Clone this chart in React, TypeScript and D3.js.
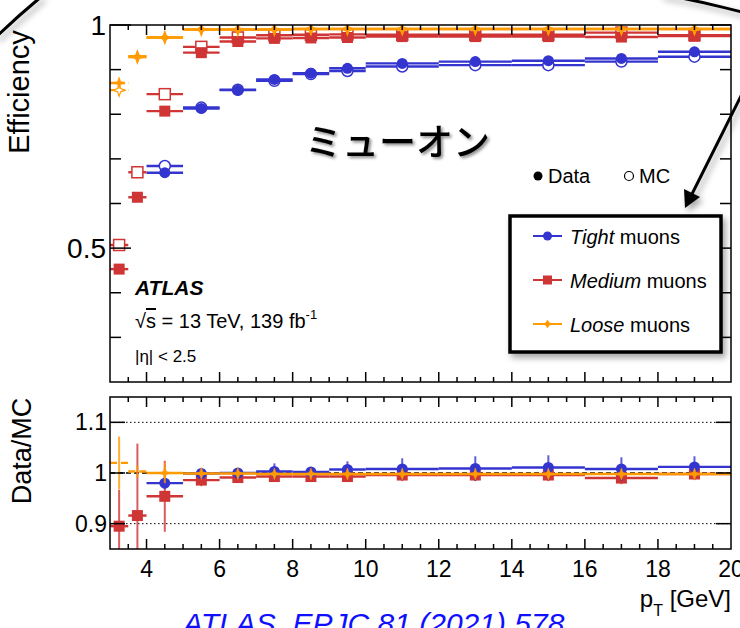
import React, { useEffect, useRef } from "react";
import * as d3 from "d3";

// pT bin edges [GeV]
const binEdges = [3, 3.5, 4, 5, 6, 7, 8, 9, 10, 12, 14, 16, 18, 20];

// efficiencies
const tightData = [null, null, 0.669, 0.813, 0.854, 0.878, 0.892, 0.903, 0.914, 0.918, 0.92, 0.925, 0.94];
const tightMC = [null, null, 0.684, 0.815, 0.855, 0.875, 0.89, 0.897, 0.907, 0.91, 0.91, 0.918, 0.929];
const mediumData = [0.453, 0.614, 0.807, 0.938, 0.963, 0.97, 0.971, 0.972, 0.974, 0.974, 0.974, 0.973, 0.975];
const mediumMC = [0.507, 0.67, 0.845, 0.951, 0.972, 0.977, 0.978, 0.979, 0.978, 0.978, 0.978, 0.983, 0.977];
const looseData = [0.87, 0.93, 0.972, 0.99, 0.99, 0.99, 0.991, 0.991, 0.991, 0.991, 0.991, 0.991, 0.991];
const looseMC = [0.854, 0.928, 0.972, 0.99, 0.99, 0.99, 0.991, 0.991, 0.991, 0.991, 0.991, 0.991, 0.991];

// Data/MC ratio and its error, lower panel
const tightRatio = [null, null, 0.98, 0.999, 1.0, 1.003, 1.002, 1.007, 1.008, 1.009, 1.011, 1.008, 1.012];
const tightRatioErr = [null, null, 0.012, 0.006, 0.008, 0.016, 0.01, 0.016, 0.021, 0.024, 0.024, 0.023, 0.021];
const mediumRatio = [0.895, 0.916, 0.954, 0.986, 0.991, 0.993, 0.993, 0.993, 0.996, 0.996, 0.996, 0.99, 0.998];
const mediumRatioErr = [0.072, 0.142, 0.07, 0.012, 0.008, 0.01, 0.008, 0.01, 0.012, 0.012, 0.012, 0.012, 0.012];
const looseRatio = [1.02, 1.003, 1.0, 0.999, 0.999, 0.998, 0.998, 0.998, 0.998, 0.998, 0.998, 0.998, 0.998];
const looseRatioErr = [0.052, 0.012, 0.02, 0.005, 0.004, 0.004, 0.004, 0.004, 0.005, 0.005, 0.005, 0.005, 0.005];

const xTicks = [4, 6, 8, 10, 12, 14, 16, 18, 20];

const BLUE = "#3434cf";
const RED = "#cf3535";
const ORANGE = "#ff9a00";

const series = [
  { name: "Tight", color: BLUE, marker: "circle", data: tightData, mc: tightMC, ratio: tightRatio, err: tightRatioErr },
  { name: "Medium", color: RED, marker: "square", data: mediumData, mc: mediumMC, ratio: mediumRatio, err: mediumRatioErr },
  { name: "Loose", color: ORANGE, marker: "star", data: looseData, mc: looseMC, ratio: looseRatio, err: looseRatioErr },
];

const FONT = "'Liberation Sans', Arial, Helvetica, sans-serif";

const App = () => {
  const svgRef = useRef<SVGSVGElement>(null);

  useEffect(() => {
    const svg = d3.select(svgRef.current);
    svg.selectAll("*").remove();

    const L = 110, R = 731;
    const mainTop = 25, mainBot = 382;
    const ratTop = 397, ratBot = 549;

    const x = d3.scaleLinear().domain([3, 20]).range([L, R]);
    const yMain = d3.scaleLinear().domain([0.2, 1]).range([mainBot, mainTop]);
    const yRat = d3.scaleLinear().domain([0.85, 1.15]).range([ratBot, ratTop]);

    const defs = svg.append("defs");
    const shadow = defs.append("filter").attr("id", "shadow").attr("x", "-20%").attr("y", "-20%").attr("width", "150%").attr("height", "150%");
    shadow.append("feDropShadow").attr("dx", 3).attr("dy", 4).attr("stdDeviation", 3).attr("flood-color", "#000").attr("flood-opacity", 0.35);
    const tshadow = defs.append("filter").attr("id", "tshadow").attr("x", "-10%").attr("y", "-20%").attr("width", "130%").attr("height", "150%");
    tshadow.append("feDropShadow").attr("dx", 2).attr("dy", 2).attr("stdDeviation", 1.5).attr("flood-color", "#000").attr("flood-opacity", 0.45);
    defs.append("clipPath").attr("id", "ratClip").append("rect")
      .attr("x", L).attr("y", ratTop).attr("width", R - L).attr("height", ratBot - ratTop);
    defs.append("clipPath").attr("id", "mainClip").append("rect")
      .attr("x", L).attr("y", mainTop).attr("width", R - L).attr("height", mainBot - mainTop);

    svg.append("rect").attr("width", 740).attr("height", 628).attr("fill", "#fff");

    // slide decorations: curved outlines at the top corners
    const deco = svg.append("g").attr("filter", "url(#shadow)");
    deco.append("path").attr("d", "M -4,37 Q 18,16 42,-4").attr("fill", "none").attr("stroke", "#000").attr("stroke-width", 3);
    deco.append("path").attr("d", "M 660,-6 Q 705,2 750,14").attr("fill", "none").attr("stroke", "#000").attr("stroke-width", 3);

    const drawMarker = (g, type, cx, cy, color, open, size = 5.5) => {
      if (type === "circle") {
        g.append("circle").attr("cx", cx).attr("cy", cy).attr("r", size)
          .attr("fill", open ? "#fff" : color).attr("stroke", color).attr("stroke-width", open ? 1.5 : 0);
      } else if (type === "square") {
        g.append("rect").attr("x", cx - size).attr("y", cy - size).attr("width", 2 * size).attr("height", 2 * size)
          .attr("fill", open ? "#fff" : color).attr("stroke", color).attr("stroke-width", open ? 1.5 : 0);
      } else {
        const s = size + 0.5, w = 1.6;
        const d = `M${cx},${cy - s} L${cx + w},${cy - w} L${cx + s},${cy} L${cx + w},${cy + w} L${cx},${cy + s} L${cx - w},${cy + w} L${cx - s},${cy} L${cx - w},${cy - w}Z`;
        g.append("path").attr("d", d).attr("fill", open ? "#fff" : color).attr("stroke", color).attr("stroke-width", open ? 1.2 : 0.5);
      }
    };

    const centers = binEdges.slice(0, -1).map((e, i) => (e + binEdges[i + 1]) / 2);

    // ---------- main panel ----------
    const gMain = svg.append("g").attr("clip-path", "url(#mainClip)");
    series.forEach((s) => {
      [{ vals: s.mc, open: true }, { vals: s.data, open: false }].forEach(({ vals, open }) => {
        vals.forEach((v, i) => {
          if (v == null) return;
          gMain.append("line")
            .attr("x1", x(binEdges[i])).attr("x2", x(binEdges[i + 1]))
            .attr("y1", yMain(v)).attr("y2", yMain(v))
            .attr("stroke", s.color).attr("stroke-width", 2.4)
            .attr("stroke-dasharray", s.marker === "star" && i === 0 ? "6,3" : null);
          drawMarker(gMain, s.marker, x(centers[i]), yMain(v), s.color, open);
        });
      });
    });

    // ---------- ratio panel ----------
    const gRat = svg.append("g");
    gRat.selectAll(".grid").data([0.9, 1.1]).join("line")
      .attr("x1", L).attr("x2", R).attr("y1", (d) => yRat(d)).attr("y2", (d) => yRat(d))
      .attr("stroke", "#000").attr("stroke-width", 1).attr("stroke-dasharray", "1.5,2.5");
    const gRatData = svg.append("g").attr("clip-path", "url(#ratClip)");
    [series[1], series[0], series[2]].forEach((s) => {
      s.ratio.forEach((v, i) => {
        if (v == null) return;
        const e = s.err[i];
        gRatData.append("line")
          .attr("x1", x(centers[i])).attr("x2", x(centers[i]))
          .attr("y1", yRat(v - e)).attr("y2", yRat(v + e))
          .attr("stroke", s.color).attr("stroke-width", 2).attr("stroke-opacity", 0.8);
        gRatData.append("line")
          .attr("x1", x(binEdges[i])).attr("x2", x(binEdges[i + 1]))
          .attr("y1", yRat(v)).attr("y2", yRat(v))
          .attr("stroke", s.color).attr("stroke-width", 2.4)
          .attr("stroke-dasharray", s.marker === "star" && i < 2 ? "7,4" : null);
        if (!(s.marker === "star" && i < 2)) drawMarker(gRatData, s.marker, x(centers[i]), yRat(v), s.color, false);
      });
    });
    gRat.append("line").attr("x1", L).attr("x2", R).attr("y1", yRat(1)).attr("y2", yRat(1))
      .attr("stroke", "#000").attr("stroke-width", 1.3).attr("stroke-dasharray", "5,3");

    // ---------- frames & ticks ----------
    const axes = svg.append("g").attr("stroke", "#000").attr("stroke-width", 1.5);
    [[mainTop, mainBot], [ratTop, ratBot]].forEach(([t, b]) => {
      axes.append("rect").attr("x", L).attr("y", t).attr("width", R - L).attr("height", b - t).attr("fill", "none");
      d3.range(3.5, 20, 0.5).forEach((v) => {
        const len = v % 2 === 0 ? 10 : 5;
        axes.append("line").attr("x1", x(v)).attr("x2", x(v)).attr("y1", b).attr("y2", b - len);
        axes.append("line").attr("x1", x(v)).attr("x2", x(v)).attr("y1", t).attr("y2", t + len);
      });
    });
    d3.range(0.3, 1.0001, 0.1).forEach((v) => {
      const major = Math.abs(v - 0.5) < 1e-6 || Math.abs(v - 1) < 1e-6;
      const len = major ? 21 : 11;
      axes.append("line").attr("x1", L).attr("x2", L + len).attr("y1", yMain(v)).attr("y2", yMain(v));
      axes.append("line").attr("x1", R).attr("x2", R - len).attr("y1", yMain(v)).attr("y2", yMain(v));
    });
    [0.9, 1, 1.1].forEach((v) => {
      axes.append("line").attr("x1", L).attr("x2", L + 15).attr("y1", yRat(v)).attr("y2", yRat(v));
      axes.append("line").attr("x1", R).attr("x2", R - 15).attr("y1", yRat(v)).attr("y2", yRat(v));
    });

    const txt = svg.append("g").attr("font-family", FONT).attr("fill", "#000");
    [[1, "1"], [0.5, "0.5"]].forEach(([v, label]) => {
      txt.append("text").attr("x", 106).attr("y", yMain(v as number) + 10).attr("text-anchor", "end")
        .attr("font-size", 28).text(label as string);
    });
    [[1.1, "1.1"], [1, "1"], [0.9, "0.9"]].forEach(([v, label]) => {
      txt.append("text").attr("x", 107).attr("y", yRat(v as number) + 8).attr("text-anchor", "end")
        .attr("font-size", 23).text(label as string);
    });
    xTicks.forEach((v) => {
      txt.append("text").attr("x", x(v)).attr("y", 577).attr("text-anchor", "middle").attr("font-size", 23).text(v);
    });

    txt.append("text").attr("transform", "translate(29,92) rotate(-90)").attr("text-anchor", "middle")
      .attr("font-size", 29).text("Efficiency");
    txt.append("text").attr("transform", "translate(31,451) rotate(-90)").attr("text-anchor", "middle")
      .attr("font-size", 27).text("Data/MC");

    const pt = txt.append("text").attr("x", 731).attr("y", 607).attr("text-anchor", "end").attr("font-size", 24);
    pt.append("tspan").text("p");
    pt.append("tspan").attr("dy", 9).attr("font-size", 16).text("T");
    pt.append("tspan").attr("dy", -9).text(" [GeV]");

    // ATLAS label
    txt.append("text").attr("x", 135).attr("y", 295).attr("font-size", 21).attr("font-weight", "bold")
      .attr("font-style", "italic").text("ATLAS");
    const lumi = txt.append("text").attr("x", 135).attr("y", 328).attr("font-size", 20);
    lumi.append("tspan").text("√");
    lumi.append("tspan").attr("text-decoration", "overline").text("s");
    lumi.append("tspan").text(" = 13 TeV, 139 fb");
    lumi.append("tspan").attr("dy", -9).attr("font-size", 13).text("-1");
    txt.append("text").attr("x", 135).attr("y", 362).attr("font-size", 17).text("|η| < 2.5");

    // Data / MC key
    svg.append("circle").attr("cx", 538).attr("cy", 176).attr("r", 4.5).attr("fill", "#000");
    txt.append("text").attr("x", 548).attr("y", 183).attr("font-size", 20).text("Data");
    svg.append("circle").attr("cx", 629).attr("cy", 176).attr("r", 4.5).attr("fill", "none").attr("stroke", "#000").attr("stroke-width", 1.2);
    txt.append("text").attr("x", 639).attr("y", 183).attr("font-size", 20).text("MC");

    // arrow
    const arrow = svg.append("g").attr("filter", "url(#shadow)");
    arrow.append("line").attr("x1", 746).attr("y1", 86).attr("x2", 692).attr("y2", 194)
      .attr("stroke", "#000").attr("stroke-width", 3);
    arrow.append("path").attr("d", "M685,208 L684,189 L700,197 Z").attr("fill", "#000");

    // legend
    svg.append("rect").attr("x", 510).attr("y", 216).attr("width", 211).attr("height", 136)
      .attr("fill", "#fff").attr("stroke", "#000").attr("stroke-width", 3.5).attr("filter", "url(#shadow)");
    const leg = svg.append("g").attr("font-family", FONT);
    series.forEach((s, i) => {
      const cy = 236 + i * 44;
      leg.append("line").attr("x1", 533).attr("x2", 562).attr("y1", cy).attr("y2", cy)
        .attr("stroke", s.color).attr("stroke-width", 2);
      drawMarker(leg, s.marker, 547.5, cy, s.color, false, s.marker === "star" ? 3.5 : 4.5);
      const t = leg.append("text").attr("x", 570).attr("y", cy + 8).attr("font-size", 20).attr("fill", "#000");
      t.append("tspan").attr("font-style", "italic").text(s.name);
      t.append("tspan").text(" muons");
    });

    // Japanese title
    svg.append("text").attr("x", 305).attr("y", 156).attr("font-family", "'Noto Sans CJK JP', sans-serif")
      .attr("font-size", 37).attr("font-weight", 500).attr("filter", "url(#tshadow)").text("ミューオン");

    // citation
    svg.append("text").attr("x", 183).attr("y", 634).attr("font-family", FONT).attr("font-style", "italic")
      .attr("font-size", 30).attr("fill", "#1010ff").text("ATLAS, EPJC 81 (2021) 578");
  }, []);

  return (
    <svg
      ref={svgRef}
      width={740}
      height={628}
      style={{ position: "absolute", left: 0, top: 0, display: "block" }}
    ></svg>
  );
};

export default App;
